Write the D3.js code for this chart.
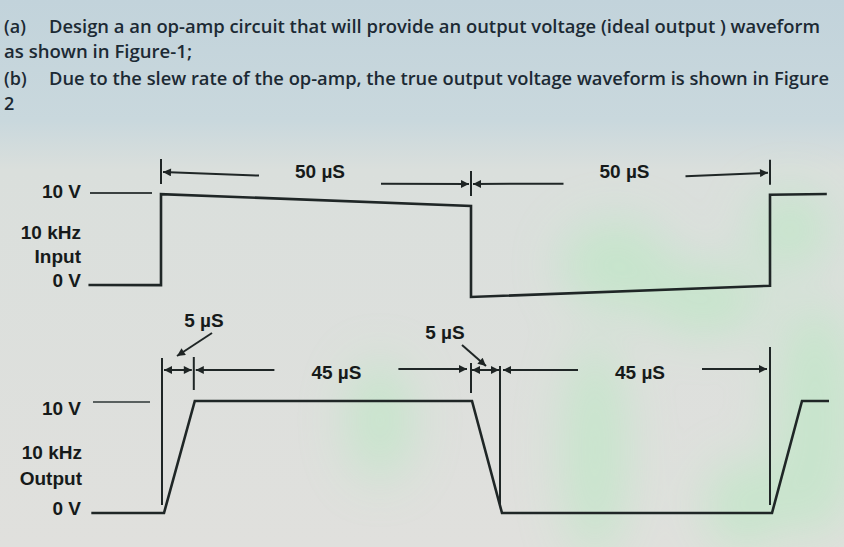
<!DOCTYPE html>
<html><head><meta charset="utf-8">
<script src="https://cdn.jsdelivr.net/npm/d3@7"></script>
<style>html,body{margin:0;padding:0;overflow:hidden;background:#dde1dc}</style>
</head><body>
<svg id="c" width="844" height="547"></svg>
<script>
// ---------- data ----------
const headerLabels = ["(a)", "", "(b)", ""];
const headerTexts = [
  "Design a an op-amp circuit that will provide an output voltage (ideal output ) waveform",
  "as shown in Figure-1;",
  "Due to the slew rate of the op-amp, the true output voltage waveform is shown in Figure",
  "2"
];
const inputTimes  = [-11.7, 0, 0, 50, 50, 100, 100, 109.5];
const inputVolts  = [0, 0, 10, 10, 0, 0, 10, 10];
const outputTimes = [-11.8, 0, 5, 50, 55, 100, 105, 109.5];
const outputVolts = [0, 0, 10, 10, 0, 0, 10, 10];
const inputLabels  = ["10 kHz", "Input"];
const outputLabels = ["10 kHz", "Output"];
const voltTicks = [10, 0];
const voltTickLabels = ["10 V", "0 V"];
const inputSpans = [[0, 50, "50 µS"], [50, 100, "50 µS"]];
const outputSpans = [[5, 50, "45 µS"], [55, 100, "45 µS"]];
const slewSpans = [[0, 5, "5 µS"], [50, 55, "5 µS"]];

// ---------- setup ----------
const svg = d3.select("#c");
const W = 844, H = 547;
const defs = svg.append("defs");
const bg = defs.append("linearGradient").attr("id","bg").attr("x1",0).attr("x2",0).attr("y1",0).attr("y2",1);
bg.append("stop").attr("offset","0").attr("stop-color","#c2d3db");
bg.append("stop").attr("offset","0.22").attr("stop-color","#c9d8dd");
bg.append("stop").attr("offset","0.31").attr("stop-color","#dadfdc");
bg.append("stop").attr("offset","1").attr("stop-color","#e0e0dd");
defs.append("filter").attr("id","blur").attr("x","-50%").attr("y","-50%").attr("width","200%").attr("height","200%")
  .append("feGaussianBlur").attr("stdDeviation",24);
defs.append("marker").attr("id","ah").attr("viewBox","0 0 10 10")
  .attr("refX",10).attr("refY",5).attr("markerWidth",11).attr("markerHeight",8)
  .attr("markerUnits","userSpaceOnUse").attr("orient","auto-start-reverse")
  .append("path").attr("d","M0,0L10,5L0,10z").attr("fill","#1e2424");

svg.append("rect").attr("width",W).attr("height",H).attr("fill","url(#bg)");
const patches = svg.append("g").attr("filter","url(#blur)").attr("fill","#c2e6c9").attr("opacity",0.85);
[[615,265,55,45],[595,450,32,110],[705,300,60,35],[815,420,40,120],[745,505,40,45],[380,420,32,60],[790,230,40,40]].forEach(p=>{
  patches.append("ellipse").attr("cx",p[0]).attr("cy",p[1]).attr("rx",p[2]).attr("ry",p[3]);
});

// ---------- header ----------
const hdr = svg.append("g").attr("font-family","'Open Sans', sans-serif").attr("font-size",18)
  .attr("font-weight",600).attr("fill","#1c2a34");
const hdrBase = [33, 58, 85, 110];
const hdrEnd = [820, 192, 829, 14];
headerTexts.forEach((t,i)=>{
  if (headerLabels[i]) hdr.append("text").attr("x",4).attr("y",hdrBase[i]).text(headerLabels[i]);
  const x0 = headerLabels[i] ? 49 : 4;
  const tx = hdr.append("text").attr("x",x0).attr("y",hdrBase[i]).text(t);
  if (t.length > 1) tx.attr("textLength",hdrEnd[i]-x0).attr("lengthAdjust","spacingAndGlyphs");
});

// ---------- scales ----------
const xIn  = d3.scaleLinear().domain([0,50,100]).range([161,471,770]);
const yIn  = d3.scaleLinear().domain([0,10]).range([285,194]);
const xOut = d3.scaleLinear().domain([0,50,100]).range([164,472,772]);
const yOut = d3.scaleLinear().domain([0,10]).range([513,401]);
const warpTop = x => 12*Math.max(0, 1-Math.pow((x-470)/310,2));

const ink = "#1f2626";
const lblFont = "'Liberation Sans', Arial, sans-serif";

// ---------- input waveform ----------
const inData = inputTimes.map((t,i)=>({t, v: inputVolts[i]}));
const lineIn = d3.line().x(d=>xIn(d.t)).y(d=>yIn(d.v)+warpTop(xIn(d.t)));
svg.append("path").datum(inData).attr("d",lineIn).attr("fill","none")
  .attr("stroke",ink).attr("stroke-width",2.6).attr("stroke-linejoin","miter");
// 10 V reference stub
svg.append("line").attr("x1",90).attr("x2",152).attr("y1",yIn(10)-1).attr("y2",yIn(10)-1)
  .attr("stroke","#3a4040").attr("stroke-width",2);

const lblIn = svg.append("g").attr("font-family",lblFont).attr("font-weight","bold")
  .attr("font-size",19).attr("fill","#161a1a").attr("text-anchor","end");
lblIn.append("text").attr("x",81).attr("y",198).text(voltTickLabels[0]);
lblIn.append("text").attr("x",81).attr("y",239).text(inputLabels[0]);
lblIn.append("text").attr("x",81).attr("y",263).text(inputLabels[1]);
lblIn.append("text").attr("x",81).attr("y",287).text(voltTickLabels[1]);

// input dimension row
const dimTop = 172;
const dIn = svg.append("g").attr("stroke",ink).attr("stroke-width",2).attr("fill","none");
[0,50,100].forEach(t=>{
  const x = xIn(t), y = dimTop + warpTop(x);
  dIn.append("line").attr("x1",x).attr("x2",x).attr("y1",y-13).attr("y2",y+12);
});
const tIn = svg.append("g").attr("font-family",lblFont).attr("font-weight","bold")
  .attr("font-size",19).attr("fill","#161a1a").attr("text-anchor","middle");
inputSpans.forEach(s=>{
  const a = xIn(s[0]), b = xIn(s[1]), m = (a+b)/2 + 4;
  const halfW = 25, gap = 36;
  const ya = dimTop + warpTop(a+50), yb = dimTop + warpTop(b-50);
  dIn.append("line").attr("x1",m-halfW-gap).attr("y1",ya).attr("x2",a+2).attr("y2",dimTop+warpTop(a))
    .attr("marker-end","url(#ah)");
  dIn.append("line").attr("x1",m+halfW+gap).attr("y1",yb).attr("x2",b-2).attr("y2",dimTop+warpTop(b))
    .attr("marker-end","url(#ah)");
  tIn.append("text").attr("x",m).attr("y",dimTop-6+warpTop(m)*0.5+7).text(s[2]);
});

// ---------- output waveform ----------
const outData = outputTimes.map((t,i)=>({t, v: outputVolts[i]}));
const lineOut = d3.line().x(d=>xOut(d.t)).y(d=>yOut(d.v));
svg.append("path").datum(outData).attr("d",lineOut).attr("fill","none")
  .attr("stroke",ink).attr("stroke-width",2.6).attr("stroke-linejoin","miter");
svg.append("line").attr("x1",93).attr("x2",150).attr("y1",yOut(10)+1).attr("y2",yOut(10)+1)
  .attr("stroke","#59605f").attr("stroke-width",2.2);

const lblOut = svg.append("g").attr("font-family",lblFont).attr("font-weight","bold")
  .attr("font-size",19).attr("fill","#161a1a").attr("text-anchor","end");
lblOut.append("text").attr("x",81).attr("y",415).text(voltTickLabels[0]);
lblOut.append("text").attr("x",82).attr("y",459).text(outputLabels[0]);
lblOut.append("text").attr("x",82).attr("y",485).text(outputLabels[1]);
lblOut.append("text").attr("x",81).attr("y",515).text(voltTickLabels[1]);

// output dimension row
const dimBot = 370;
const dOut = svg.append("g").attr("stroke",ink).attr("stroke-width",2).attr("fill","none");
// tall reference lines at input transitions / end of slew
[[0,358],[55,366],[100,347]].forEach(r=>{
  const x = xOut(r[0]) - 2;
  dOut.append("line").attr("x1",x).attr("x2",x).attr("y1",r[1]).attr("y2",505);
});
// short ticks
[[5,357,390],[50,363,393]].forEach(r=>{
  const x = xOut(r[0]) - 1;
  dOut.append("line").attr("x1",x).attr("x2",x).attr("y1",r[1]).attr("y2",r[2]);
});
// slew double arrows
slewSpans.forEach(s=>{
  const a = xOut(s[0]) - 1, b = xOut(s[1]) - 2;
  dOut.append("line").attr("x1",a+1).attr("x2",b-1).attr("y1",dimBot).attr("y2",dimBot)
    .attr("marker-start","url(#ah)").attr("marker-end","url(#ah)");
});
const tOut = svg.append("g").attr("font-family",lblFont).attr("font-weight","bold")
  .attr("font-size",19).attr("fill","#161a1a").attr("text-anchor","middle");
outputSpans.forEach(s=>{
  const a = xOut(s[0]), b = xOut(s[1]) - 2, m = (a+b)/2 + 4;
  const halfW = 24, gap = 38;
  dOut.append("line").attr("x1",m-halfW-gap).attr("x2",a+1).attr("y1",dimBot).attr("y2",dimBot)
    .attr("marker-end","url(#ah)");
  dOut.append("line").attr("x1",m+halfW+gap).attr("x2",b-3).attr("y1",dimBot-1).attr("y2",dimBot-1)
    .attr("marker-end","url(#ah)");
  tOut.append("text").attr("x",m).attr("y",dimBot+9).text(s[2]);
});
// 5 µS callouts with leader arrows
const callouts = [[204,327,212,333,177,356],[445,339,462,345,486,366]];
slewSpans.forEach((s,i)=>{
  const c = callouts[i];
  tOut.append("text").attr("x",c[0]).attr("y",c[1]).text(s[2]);
  dOut.append("line").attr("x1",c[2]).attr("y1",c[3]).attr("x2",c[4]).attr("y2",c[5])
    .attr("marker-end","url(#ah)");
});
</script>
</body></html>
